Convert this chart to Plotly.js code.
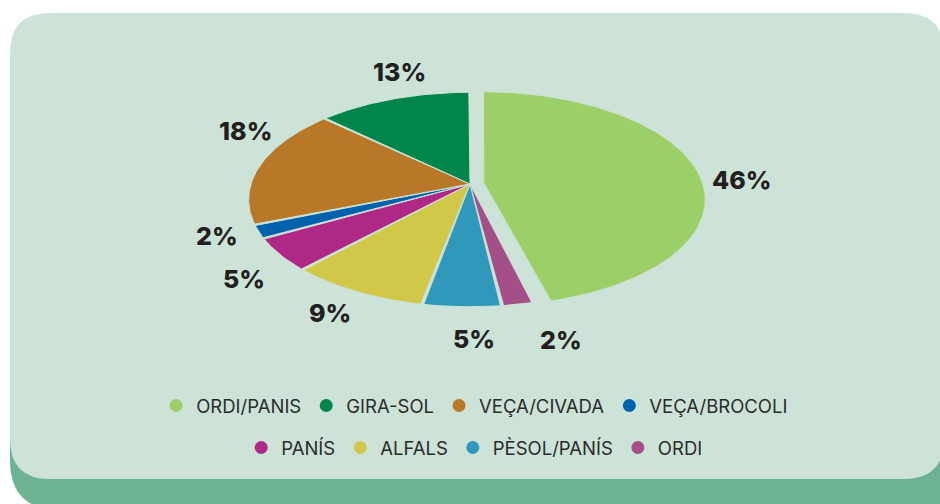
<!DOCTYPE html>
<html>
<head>
<meta charset="utf-8">
<script src="https://cdn.plot.ly/plotly-3.0.1.min.js"></script>
<style>
  html, body { margin: 0; padding: 0; background: #fff; }
  #chart { width: 940px; height: 504px; }
</style>
</head>
<body>
<div id="chart"></div>
<script>
// data, in legend order
const categories = ['ORDI/PANIS', 'GIRA-SOL', 'VEÇA/CIVADA', 'VEÇA/BROCOLI', 'PANÍS', 'ALFALS', 'PÈSOL/PANÍS', 'ORDI'];
const values = [46, 13, 18, 2, 5, 9, 5, 2];
const sliceColors = ['#9ccf67', '#00864a', '#b87828', '#0062ad', '#b02886', '#d1c84a', '#3099bb', '#a44f87'];

// slices go clockwise from 12 o'clock in this order
const drawOrder = [0, 7, 6, 5, 4, 3, 2, 1];

const PANEL = '#cde3d8';
const PANEL_DARK = '#6db393';
const TEXT = '#231f20';

// tilted pie (perspective view of a disc)
const CX = 470, CY = 184, RX = 219, RY = 105, PERSP = 0.145;
const GAP = 0.35 * Math.PI / 180;     // small wedge gap each side
const pulls = [0.064, 0, 0, 0, 0, 0, 0, 0];
const labelNudge = [[-4, 13], [26, -5], [46, -28], [27, -11], [28, 0], [15, -17], [15, -13], [26, -9]];

function project(u, v) {
    const d = 1 + PERSP * v;
    return [CX + RX * u / d, CY - RY * v / d];
}

function roundRect(x0, y0, x1, y1, r) {
    return `M ${x0 + r},${y0} L ${x1 - r},${y0} Q ${x1},${y0} ${x1},${y0 + r} ` +
        `L ${x1},${y1 - r} Q ${x1},${y1} ${x1 - r},${y1} L ${x0 + r},${y1} ` +
        `Q ${x0},${y1} ${x0},${y1 - r} L ${x0},${y0 + r} Q ${x0},${y0} ${x0 + r},${y0} Z`;
}

const total = values.reduce((a, b) => a + b, 0);
const traces = [];
const annotations = [];

let acc = 0;
drawOrder.forEach(i => {
    const a0 = 2 * Math.PI * acc / total;
    acc += values[i];
    const a1 = 2 * Math.PI * acc / total;
    const mid = (a0 + a1) / 2;
    const pu = pulls[i] * Math.sin(mid), pv = pulls[i] * Math.cos(mid);

    const xs = [], ys = [];
    const apex = project(pu, pv);
    xs.push(apex[0]); ys.push(apex[1]);
    const n = Math.max(6, Math.round((a1 - a0) * 60));
    for (let k = 0; k <= n; k++) {
        const t = a0 + GAP + (a1 - a0 - 2 * GAP) * k / n;
        const p = project(pu + Math.sin(t), pv + Math.cos(t));
        xs.push(p[0]); ys.push(p[1]);
    }
    xs.push(apex[0]); ys.push(apex[1]);

    traces.push({
        x: xs, y: ys,
        type: 'scatter',
        mode: 'lines',
        fill: 'toself',
        fillcolor: sliceColors[i],
        line: { color: PANEL, width: 1 },
        hoverinfo: 'skip',
        showlegend: false,
    });

    const lp = project(1.3 * Math.sin(mid), 1.3 * Math.cos(mid));
    annotations.push({
        x: lp[0] + labelNudge[i][0],
        y: lp[1] + labelNudge[i][1],
        text: values[i] + '%',
        showarrow: false,
        font: { family: 'Inter, "Open Sans", sans-serif', size: 25, color: TEXT, weight: 800 },
    });
});

// legend-only traces with round markers
categories.forEach((name, i) => {
    traces.push({
        x: [null], y: [null],
        type: 'scatter',
        mode: 'markers',
        name: name,
        marker: { color: sliceColors[i], size: 13, symbol: 'circle' },
        legend: i < 4 ? 'legend' : 'legend2',
        hoverinfo: 'skip',
    });
});

const legendBase = {
    orientation: 'h',
    xanchor: 'center',
    yanchor: 'middle',
    x: 0.505,
    bgcolor: 'rgba(0,0,0,0)',
    itemwidth: 30,
    font: { family: 'Inter, "Open Sans", sans-serif', size: 18.5, color: '#2b2b2b' },
};

const layout = {
    width: 940,
    height: 504,
    margin: { l: 0, r: 0, t: 0, b: 0 },
    paper_bgcolor: '#ffffff',
    plot_bgcolor: 'rgba(0,0,0,0)',
    xaxis: { range: [0, 940], visible: false, fixedrange: true },
    yaxis: { range: [504, 0], visible: false, fixedrange: true },
    showlegend: true,
    legend: Object.assign({}, legendBase, { y: 1 - 406 / 504 }),
    legend2: Object.assign({}, legendBase, { y: 1 - 448 / 504 }),
    shapes: [
        { type: 'path', layer: 'below', path: roundRect(10, 300, 962, 510, 50), fillcolor: PANEL_DARK, line: { width: 0 } },
        { type: 'path', layer: 'below', path: roundRect(10, 13, 944, 479, 40), fillcolor: PANEL, line: { width: 0 } },
    ],
    annotations: annotations,
};

Plotly.newPlot('chart', traces, layout, { displayModeBar: false, staticPlot: true });
</script>
</body>
</html>
